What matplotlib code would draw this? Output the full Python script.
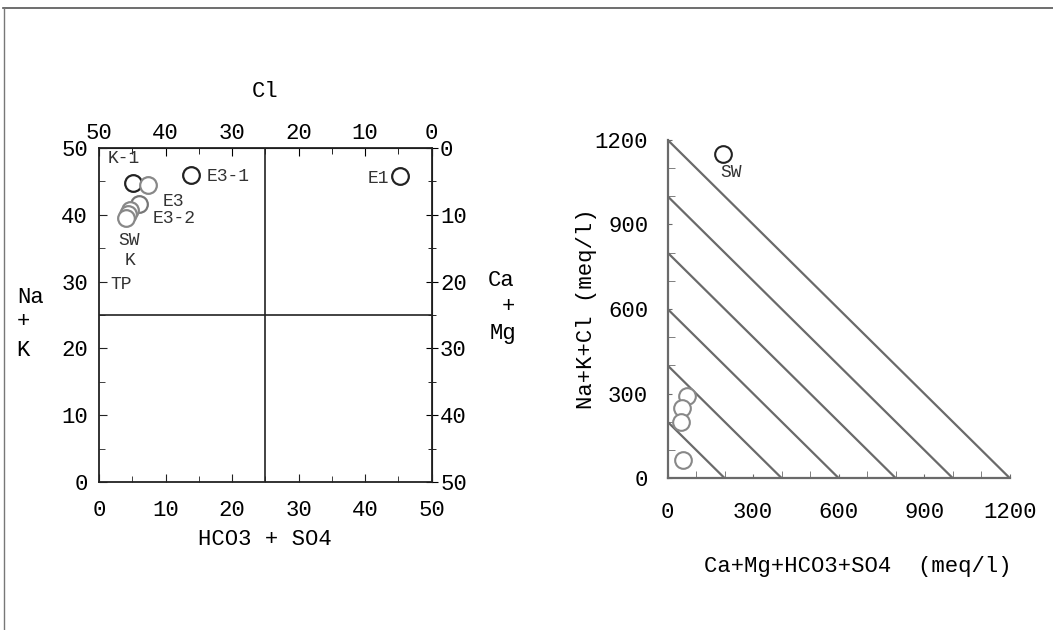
import matplotlib
matplotlib.use("Agg")
import matplotlib.pyplot as plt
from matplotlib.lines import Line2D
from matplotlib.ticker import MultipleLocator

plt.rcParams['font.family'] = ['Liberation Mono', 'DejaVu Sans Mono']

# left diagram: HCO3+SO4 (x) vs Na+K (y), in % meq
left_x = [5.1, 7.4, 6.0, 4.7, 4.4, 4.1, 13.8, 45.2]
left_y = [44.8, 44.5, 41.6, 40.7, 40.1, 39.5, 46.0, 45.8]
left_edge = ['#222222', '#888888', '#777777', '#888888', '#888888', '#888888', '#222222', '#222222']
left_names = ['K-1', 'E3', 'E3-2', 'SW', 'K', 'TP', 'E3-1', 'E1']
left_label_pos = [(1.3, 48.5), (9.6, 42.0), (8.0, 39.4), (2.9, 36.2), (3.8, 33.1), (1.7, 29.6),
                  (16.2, 45.8), (43.6, 45.4)]
left_label_ha = ['left'] * 7 + ['right']

# right diagram: Ca+Mg+HCO3+SO4 (x) vs Na+K+Cl (y), meq/l
right_x = [196, 67, 49, 46, 53]
right_y = [1150, 291, 249, 200, 63]
right_edge = ['#222222', '#888888', '#888888', '#888888', '#888888']
diag_levels = [200, 400, 600, 800, 1000, 1200]

fig = plt.figure(figsize=(10.53, 6.3), dpi=100)

# scan frame
fig.add_artist(Line2D([0.003, 1.0], [0.987, 0.987], color='#555555', lw=1.2))
fig.add_artist(Line2D([0.004, 0.004], [0.0, 0.987], color='#777777', lw=1.0))

ax = fig.add_axes([0.094, 0.235, 0.316, 0.530])
ax.set_xlim(0, 50)
ax.set_ylim(0, 50)
ax.axvline(25, color='#222222', lw=1.2)
ax.axhline(25, color='#222222', lw=1.2)
for x, y, ec in zip(left_x, left_y, left_edge):
    ax.plot(x, y, 'o', ms=12, mfc='white', mec=ec, mew=1.6)
for name, (tx, ty), ha in zip(left_names, left_label_pos, left_label_ha):
    ax.text(tx, ty, name, fontsize=13, color='#333333', va='center', ha=ha)
for s in ax.spines.values():
    s.set_color('#222222')
    s.set_linewidth(1.3)
ax.xaxis.set_major_locator(MultipleLocator(10))
ax.yaxis.set_major_locator(MultipleLocator(10))
ax.xaxis.set_minor_locator(MultipleLocator(5))
ax.yaxis.set_minor_locator(MultipleLocator(5))
ax.tick_params(which='both', direction='in', labelsize=16, color='#222222')
ax.tick_params(which='major', length=6)
ax.tick_params(axis='x', which='major', pad=13)
ax.tick_params(axis='y', which='major', pad=8)
ax.tick_params(which='minor', length=4)

top = ax.secondary_xaxis('top', functions=(lambda v: 50 - v, lambda v: 50 - v))
top.xaxis.set_major_locator(MultipleLocator(10))
top.xaxis.set_minor_locator(MultipleLocator(5))
top.tick_params(which='both', direction='in', labelsize=16)
top.tick_params(which='major', length=6, pad=3)
top.tick_params(which='minor', length=4)
right = ax.secondary_yaxis('right', functions=(lambda v: 50 - v, lambda v: 50 - v))
right.yaxis.set_major_locator(MultipleLocator(10))
right.yaxis.set_minor_locator(MultipleLocator(5))
right.tick_params(which='both', direction='inout', labelsize=16)
right.tick_params(which='major', length=8, pad=2)
right.tick_params(which='minor', length=6)

fig.text(0.252, 0.854, 'Cl', fontsize=16, ha='center', va='center')
fig.text(0.252, 0.143, 'HCO3 + SO4', fontsize=16, ha='center', va='center')
fig.text(0.029, 0.528, 'Na', fontsize=16, ha='center', va='center')
fig.text(0.022, 0.489, '+', fontsize=16, ha='center', va='center')
fig.text(0.022, 0.444, 'K', fontsize=16, ha='center', va='center')
fig.text(0.476, 0.555, 'Ca', fontsize=16, ha='center', va='center')
fig.text(0.483, 0.514, '+', fontsize=16, ha='center', va='center')
fig.text(0.478, 0.470, 'Mg', fontsize=16, ha='center', va='center')

gray = '#6a6a6a'
ax2 = fig.add_axes([0.634, 0.241, 0.325, 0.537])
ax2.set_xlim(0, 1200)
ax2.set_ylim(0, 1200)
for v in diag_levels:
    ax2.plot([0, v], [v, 0], color=gray, lw=1.6)
for x, y, ec in zip(right_x, right_y, right_edge):
    ax2.plot(x, y, 'o', ms=12, mfc='white', mec=ec, mew=1.5, clip_on=False)
ax2.text(222, 1085, 'SW', fontsize=13, color='#333333', ha='center', va='center')
ax2.spines['top'].set_visible(False)
ax2.spines['right'].set_visible(False)
for s in ('left', 'bottom'):
    ax2.spines[s].set_color(gray)
    ax2.spines[s].set_linewidth(1.6)
ax2.xaxis.set_major_locator(MultipleLocator(300))
ax2.yaxis.set_major_locator(MultipleLocator(300))
ax2.xaxis.set_minor_locator(MultipleLocator(100))
ax2.yaxis.set_minor_locator(MultipleLocator(100))
ax2.tick_params(which='both', direction='in', labelsize=16, color=gray)
ax2.tick_params(which='major', length=3)
ax2.tick_params(axis='x', which='major', pad=17)
ax2.tick_params(axis='y', which='major', pad=14)
ax2.tick_params(which='minor', length=5)
ax2.set_ylabel('Na+K+Cl (meq/l)', fontsize=16)
ax2.yaxis.set_label_coords(-0.205, 0.5)
ax2.set_xlabel('Ca+Mg+HCO3+SO4  (meq/l)', fontsize=16)
ax2.xaxis.set_label_coords(0.556, -0.23)

fig.savefig('out.png', dpi=100, facecolor='white')
